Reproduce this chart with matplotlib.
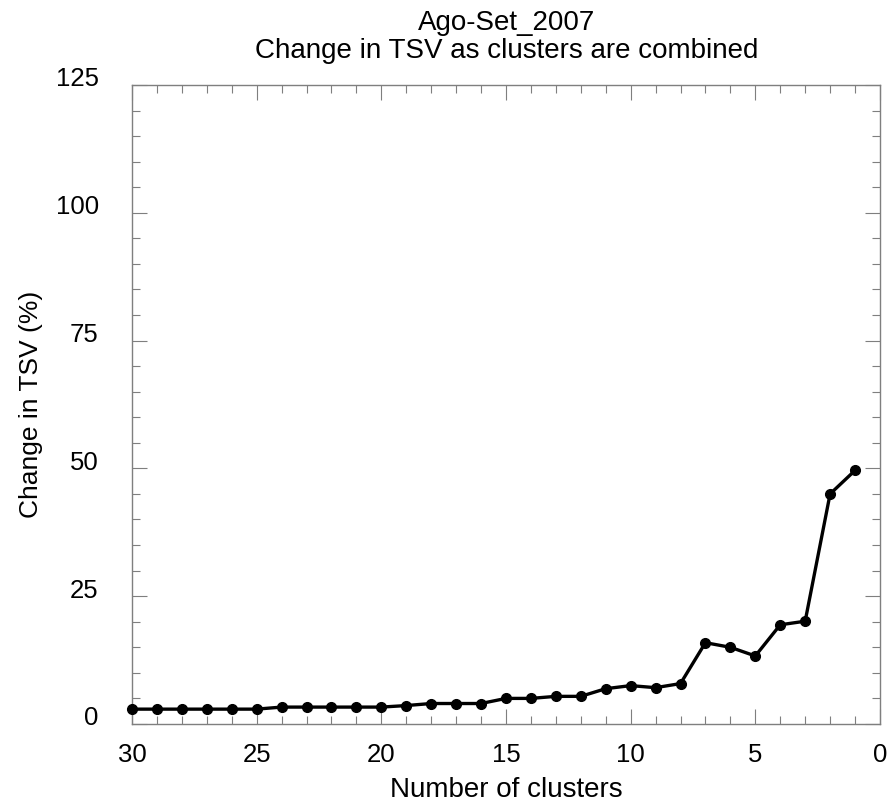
import matplotlib
matplotlib.use("Agg")
import matplotlib.pyplot as plt
from matplotlib.ticker import MultipleLocator
from matplotlib.transforms import ScaledTranslation

# Number of clusters and the percent change in total sum of variance (TSV)
n_clusters = [30, 29, 28, 27, 26, 25, 24, 23, 22, 21, 20, 19, 18, 17, 16,
              15, 14, 13, 12, 11, 10, 9, 8, 7, 6, 5, 4, 3, 2, 1]
tsv_change = [2.9, 2.9, 2.9, 2.9, 2.9, 2.9, 3.3, 3.3, 3.3, 3.3, 3.3, 3.6, 4.0, 4.0, 4.0,
              5.0, 5.0, 5.4, 5.4, 6.9, 7.5, 7.1, 7.9, 15.9, 15.0, 13.3, 19.4, 20.1, 45.0, 49.6]

x_ticks = [30, 25, 20, 15, 10, 5, 0]
y_ticks = [0, 25, 50, 75, 100, 125]

title_text = "Ago-Set_2007\nChange in TSV as clusters are combined"
x_label = "Number of clusters"
y_label = "Change in TSV (%)"

plt.rcParams['font.family'] = ['Liberation Sans', 'DejaVu Sans']

fig = plt.figure(figsize=(8.93, 8.07), dpi=100)
ax = fig.add_axes([0.1478, 0.1029, 0.8376, 0.7918])

ax.plot(n_clusters, tsv_change, color='black', linewidth=2.4,
        marker='o', markersize=7, markerfacecolor='black', markeredgecolor='black',
        clip_on=False, zorder=3)

ax.set_xlim(30, 0)
ax.set_ylim(0, 125)
ax.set_xticks(x_ticks)
ax.set_yticks(y_ticks)
ax.xaxis.set_minor_locator(MultipleLocator(1))
ax.yaxis.set_minor_locator(MultipleLocator(5))

frame_col = '#7f7f7f'
for sp in ax.spines.values():
    sp.set_color(frame_col)
    sp.set_linewidth(1.0)

ax.tick_params(which='both', direction='in', top=True, right=True, color=frame_col, width=0.8,
               labelsize=18.5)
ax.tick_params(which='major', length=10.5)
ax.tick_params(which='minor', length=5.5)
ax.tick_params(axis='x', which='major', pad=14)
ax.tick_params(axis='y', which='major', pad=24)

# lift y tick labels slightly above their ticks
for lab in ax.get_yticklabels():
    lab.set_transform(lab.get_transform() + ScaledTranslation(0, 0.08, fig.dpi_scale_trans))

ax.set_xlabel(x_label, fontsize=20, labelpad=7)
ax.set_ylabel(y_label, fontsize=19, labelpad=9)
fig.text(0.567, 0.987, title_text, ha='center', va='top', fontsize=20, linespacing=1.1)

fig.savefig("out.png", dpi=100)
